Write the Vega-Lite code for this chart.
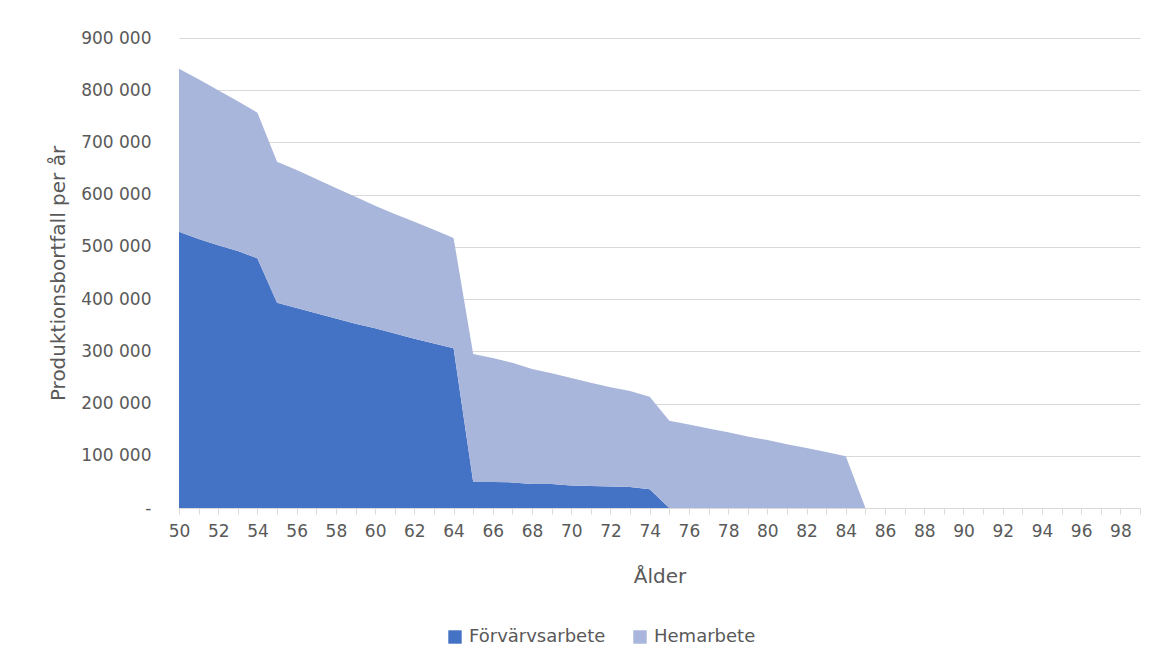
{
  "$schema": "https://vega.github.io/schema/vega-lite/v6.json",
  "autosize": "none",
  "width": 961,
  "height": 470,
  "padding": {"left": 179, "top": 38, "right": 26, "bottom": 158},
  "background": "white",
  "config": {
    "locale": {"number": {"decimal": ",", "thousands": " ", "grouping": [3], "currency": ["", " kr"]}},
    "font": "DejaVu Sans",
    "view": {"stroke": null},
    "axis": {
      "labelFont": "DejaVu Sans",
      "titleFont": "DejaVu Sans",
      "labelColor": "#595959",
      "titleColor": "#595959",
      "labelFontSize": 17,
      "titleFontSize": 20,
      "titleFontWeight": "normal"
    },
    "legend": {"labelFont": "DejaVu Sans", "labelFontSize": 18, "labelColor": "#595959"}
  },
  "data": {
    "values": [
      {"ålder": 50, "Förvärvsarbete": 529000, "Hemarbete": 312000},
      {"ålder": 51, "Förvärvsarbete": 515000, "Hemarbete": 306000},
      {"ålder": 52, "Förvärvsarbete": 503000, "Hemarbete": 297000},
      {"ålder": 53, "Förvärvsarbete": 492000, "Hemarbete": 287000},
      {"ålder": 54, "Förvärvsarbete": 478000, "Hemarbete": 279000},
      {"ålder": 55, "Förvärvsarbete": 393000, "Hemarbete": 270000},
      {"ålder": 56, "Förvärvsarbete": 383000, "Hemarbete": 264000},
      {"ålder": 57, "Förvärvsarbete": 373000, "Hemarbete": 257000},
      {"ålder": 58, "Förvärvsarbete": 363000, "Hemarbete": 250000},
      {"ålder": 59, "Förvärvsarbete": 353000, "Hemarbete": 243000},
      {"ålder": 60, "Förvärvsarbete": 344000, "Hemarbete": 235000},
      {"ålder": 61, "Förvärvsarbete": 334000, "Hemarbete": 229000},
      {"ålder": 62, "Förvärvsarbete": 324000, "Hemarbete": 224000},
      {"ålder": 63, "Förvärvsarbete": 315000, "Hemarbete": 218000},
      {"ålder": 64, "Förvärvsarbete": 306000, "Hemarbete": 211000},
      {"ålder": 65, "Förvärvsarbete": 50000, "Hemarbete": 245000},
      {"ålder": 66, "Förvärvsarbete": 50000, "Hemarbete": 237000},
      {"ålder": 67, "Förvärvsarbete": 49000, "Hemarbete": 229000},
      {"ålder": 68, "Förvärvsarbete": 46000, "Hemarbete": 220000},
      {"ålder": 69, "Förvärvsarbete": 46000, "Hemarbete": 212000},
      {"ålder": 70, "Förvärvsarbete": 43000, "Hemarbete": 206000},
      {"ålder": 71, "Förvärvsarbete": 42000, "Hemarbete": 198000},
      {"ålder": 72, "Förvärvsarbete": 41000, "Hemarbete": 190000},
      {"ålder": 73, "Förvärvsarbete": 40000, "Hemarbete": 184000},
      {"ålder": 74, "Förvärvsarbete": 36000, "Hemarbete": 177000},
      {"ålder": 75, "Förvärvsarbete": 0, "Hemarbete": 167000},
      {"ålder": 76, "Förvärvsarbete": 0, "Hemarbete": 160000},
      {"ålder": 77, "Förvärvsarbete": 0, "Hemarbete": 152000},
      {"ålder": 78, "Förvärvsarbete": 0, "Hemarbete": 145000},
      {"ålder": 79, "Förvärvsarbete": 0, "Hemarbete": 137000},
      {"ålder": 80, "Förvärvsarbete": 0, "Hemarbete": 130000},
      {"ålder": 81, "Förvärvsarbete": 0, "Hemarbete": 122000},
      {"ålder": 82, "Förvärvsarbete": 0, "Hemarbete": 115000},
      {"ålder": 83, "Förvärvsarbete": 0, "Hemarbete": 107000},
      {"ålder": 84, "Förvärvsarbete": 0, "Hemarbete": 99000},
      {"ålder": 85, "Förvärvsarbete": 0, "Hemarbete": 0},
      {"ålder": 86, "Förvärvsarbete": 0, "Hemarbete": 0},
      {"ålder": 87, "Förvärvsarbete": 0, "Hemarbete": 0},
      {"ålder": 88, "Förvärvsarbete": 0, "Hemarbete": 0},
      {"ålder": 89, "Förvärvsarbete": 0, "Hemarbete": 0},
      {"ålder": 90, "Förvärvsarbete": 0, "Hemarbete": 0},
      {"ålder": 91, "Förvärvsarbete": 0, "Hemarbete": 0},
      {"ålder": 92, "Förvärvsarbete": 0, "Hemarbete": 0},
      {"ålder": 93, "Förvärvsarbete": 0, "Hemarbete": 0},
      {"ålder": 94, "Förvärvsarbete": 0, "Hemarbete": 0},
      {"ålder": 95, "Förvärvsarbete": 0, "Hemarbete": 0},
      {"ålder": 96, "Förvärvsarbete": 0, "Hemarbete": 0},
      {"ålder": 97, "Förvärvsarbete": 0, "Hemarbete": 0},
      {"ålder": 98, "Förvärvsarbete": 0, "Hemarbete": 0},
      {"ålder": 99, "Förvärvsarbete": 0, "Hemarbete": 0}
    ]
  },
  "transform": [
    {"fold": ["Förvärvsarbete", "Hemarbete"], "as": ["typ", "värde"]}
  ],
  "mark": {"type": "area", "interpolate": "linear"},
  "encoding": {
    "x": {
      "field": "ålder",
      "type": "quantitative",
      "title": "Ålder",
      "scale": {"domain": [50, 99], "nice": false, "zero": false},
      "axis": {
        "values": [50,51,52,53,54,55,56,57,58,59,60,61,62,63,64,65,66,67,68,69,70,71,72,73,74,75,76,77,78,79,80,81,82,83,84,85,86,87,88,89,90,91,92,93,94,95,96,97,98,99],
        "labelExpr": "datum.value % 2 === 0 ? datum.label : ''",
        "grid": false,
        "domainColor": "#D9D9D9",
        "tickColor": "#D9D9D9",
        "tickSize": 6,
        "labelPadding": 9,
        "labelFlush": false,
        "labelOverlap": false,
        "titlePadding": 27
      }
    },
    "y": {
      "field": "värde",
      "type": "quantitative",
      "title": "Produktionsbortfall per år",
      "stack": "zero",
      "scale": {"domain": [0, 900000], "nice": false},
      "axis": {
        "values": [0, 100000, 200000, 300000, 400000, 500000, 600000, 700000, 800000, 900000],
        "format": ",d",
        "labelExpr": "datum.value === 0 ? '-\u00a0\u00a0' : datum.label",
        "domain": false,
        "ticks": false,
        "gridColor": "#D9D9D9",
        "gridWidth": 1,
        "labelPadding": 28,
        "titlePadding": 12
      }
    },
    "color": {
      "field": "typ",
      "type": "nominal",
      "title": null,
      "scale": {"domain": ["Förvärvsarbete", "Hemarbete"], "range": ["#4472C4", "#A9B6DB"]},
      "legend": {
        "orient": "none",
        "direction": "horizontal",
        "legendX": 267,
        "legendY": 590,
        "symbolType": "square",
        "symbolSize": 180,
        "symbolStrokeWidth": 0,
        "columnPadding": 25,
        "labelOffset": 5
      }
    },
    "order": {"field": "typ", "sort": "ascending"}
  }
}
